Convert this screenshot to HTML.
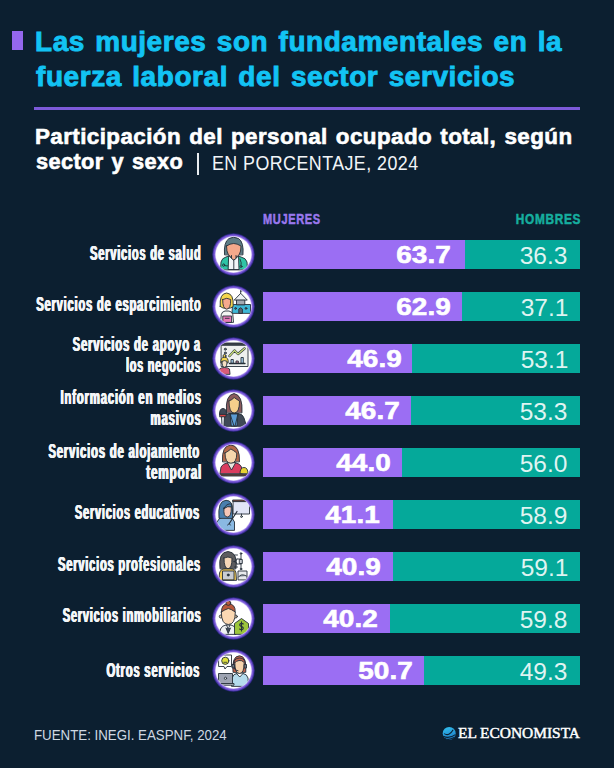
<!DOCTYPE html>
<html><head><meta charset="utf-8"><style>
html,body{margin:0;padding:0;}
body{width:614px;height:768px;background:#0c1f30;position:relative;overflow:hidden;font-family:"Liberation Sans",sans-serif;}
.t{position:absolute;white-space:nowrap;line-height:1;}
.bar{position:absolute;height:28.5px;}
.ic{position:absolute;width:41px;height:41px;}
</style></head><body>

<div style="position:absolute;left:12px;top:30.5px;width:11px;height:19px;background:#9467ee"></div>
<div style="position:absolute;left:34px;top:106.5px;width:546px;height:3px;background:#7d5ad9"></div>
<div style="position:absolute;left:196.8px;top:152.5px;width:2px;height:22px;background:#e8ecf0"></div>
<svg style="position:absolute;left:442px;top:726px" width="15" height="15" viewBox="0 0 15 15"><defs><linearGradient id="gg" x1="0" y1="0" x2="0.3" y2="1"><stop offset="0" stop-color="#33c4f2"/><stop offset="1" stop-color="#1f7fc8"/></linearGradient></defs><circle cx="7.2" cy="7.4" r="6.5" fill="url(#gg)"/><path d="M2.2 7.6 Q7 10.8 11.2 3.8 M1.2 10.2 Q7 13.2 13.4 8.6 M2.6 12.4 Q7 14.6 12.2 11.6" stroke="#0c1f30" stroke-width="1.1" fill="none"/></svg>
<div class="bar" style="left:263px;top:240px;width:201.93px;background:#9b6ef3"></div>
<div class="bar" style="left:464.93px;top:240px;width:115.07px;background:#05a99a"></div>
<div class="ic" style="left:212.70px;top:233.75px"><svg width="41" height="41" viewBox="0 0 41 41" style="display:block;overflow:visible"><defs><clipPath id="c1"><circle cx="20.5" cy="20.5" r="17.9"/></clipPath></defs><circle cx="20.5" cy="20.5" r="21.4" fill="#1e2366"/><circle cx="20.5" cy="20.5" r="20.8" fill="#4a37a8"/><circle cx="20.5" cy="20.5" r="19.9" fill="#7a5ad8"/><circle cx="20.5" cy="20.5" r="18.6" fill="#b8a5f0"/><circle cx="20.5" cy="20.5" r="17.9" fill="#fff"/><g clip-path="url(#c1)" stroke="#26303a" stroke-width="0.9" stroke-linejoin="round" stroke-linecap="round">
<path d="M7.5 35.5 L8 28 Q9 24 13 23 L17 21.5 L24 21.5 L28 23 Q33 24 34 28 L34.5 35.5 Z" fill="#2fc4a6"/>
<path d="M16 22 L20.8 26 L25.5 22 L26 35.5 L15.5 35.5 Z" fill="#f2f6f8"/>
<path d="M20.8 26 L20.8 35.5" fill="none"/>
<path d="M11.5 20.5 Q10.5 8 16 4.5 Q20.5 2 25.5 4.5 Q31 8 30 20.5 Z" fill="#5d7c85"/>
<path d="M13.5 12 Q13.5 23.5 20.7 23.5 Q28 23.5 28 12 Q24 9.5 20.7 9.5 Q17 9.5 13.5 12 Z" fill="#f4a98b"/>
<path d="M18.5 21.5 L18.5 24.5 L20.8 26 L23 24.5 L23 21.5" fill="#f4a98b"/>
<path d="M11 30 Q12 33 14.5 32" fill="none"/><circle cx="10.6" cy="31.2" r="1.1" fill="#2fc4a6"/>
<path d="M27 25 Q29 29 28 32" fill="none"/><circle cx="28" cy="32.5" r="1" fill="#2fc4a6"/>
</g></svg></div>
<div class="bar" style="left:263px;top:292px;width:199.39px;background:#9b6ef3"></div>
<div class="bar" style="left:462.39px;top:292px;width:117.61px;background:#05a99a"></div>
<div class="ic" style="left:212.70px;top:285.75px"><svg width="41" height="41" viewBox="0 0 41 41" style="display:block;overflow:visible"><defs><clipPath id="c2"><circle cx="20.5" cy="20.5" r="17.9"/></clipPath></defs><circle cx="20.5" cy="20.5" r="21.4" fill="#1e2366"/><circle cx="20.5" cy="20.5" r="20.8" fill="#4a37a8"/><circle cx="20.5" cy="20.5" r="19.9" fill="#7a5ad8"/><circle cx="20.5" cy="20.5" r="18.6" fill="#b8a5f0"/><circle cx="20.5" cy="20.5" r="17.9" fill="#fff"/><g clip-path="url(#c2)" stroke="#26303a" stroke-width="0.9" stroke-linejoin="round" stroke-linecap="round">
<path d="M19 27 L19.5 18.5 L37.5 18.5 L37.5 27 Z" fill="#3eb7d6"/>
<path d="M23.5 18.5 L23.5 13.5 L31.8 13.5 L31.8 18.5 Z" fill="#a3a9b2"/>
<path d="M21.5 13.8 L27.7 7.3 L34 13.8 Z" fill="#eef1f3"/>
<path d="M27.7 7.3 L27.7 3.3 L30.5 4.3 L27.7 5.3" fill="#eef1f3"/>
<path d="M25.8 27 L25.8 23 Q27.6 20.5 29.4 23 L29.4 27 Z" fill="#5b6670"/>
<circle cx="22.6" cy="22.4" r="0.9" fill="#5b6670"/><circle cx="33" cy="22.4" r="0.9" fill="#5b6670"/>
<path d="M7.5 36 L8.3 28.5 Q9 25.5 12 25 L16 25 Q19 25.5 19.8 28.5 L20.5 36 Z" fill="#f4f5f4"/>
<path d="M9.8 36 L9.8 30 L18.6 30 L18.6 36 Z" fill="#e879b9"/>
<path d="M12.3 32.3 L16.2 32.3" fill="none"/>
<path d="M7.2 20.5 Q6.2 7.5 13.6 7 Q21 7.5 20.2 20.5 Q18 22.5 13.6 22.5 Q9.5 22.5 7.2 20.5 Z" fill="#f5d64c"/>
<path d="M9.7 13.5 Q9.5 22.8 13.7 23.2 Q17.9 22.8 17.7 13.5 Q14 11 9.7 13.5 Z" fill="#f6a98d"/>
</g></svg></div>
<div class="bar" style="left:263px;top:344px;width:148.67px;background:#9b6ef3"></div>
<div class="bar" style="left:411.67px;top:344px;width:168.33px;background:#05a99a"></div>
<div class="ic" style="left:212.70px;top:337.75px"><svg width="41" height="41" viewBox="0 0 41 41" style="display:block;overflow:visible"><defs><clipPath id="c3"><circle cx="20.5" cy="20.5" r="17.9"/></clipPath></defs><circle cx="20.5" cy="20.5" r="21.4" fill="#1e2366"/><circle cx="20.5" cy="20.5" r="20.8" fill="#4a37a8"/><circle cx="20.5" cy="20.5" r="19.9" fill="#7a5ad8"/><circle cx="20.5" cy="20.5" r="18.6" fill="#b8a5f0"/><circle cx="20.5" cy="20.5" r="17.9" fill="#fff"/><g clip-path="url(#c3)" stroke="#26303a" stroke-width="0.9" stroke-linejoin="round" stroke-linecap="round">
<path d="M8.5 6.5 L35 6.5 L35 28.5 L8.5 28.5 Z" fill="#eef0ef"/>
<path d="M8 5 L35.5 5 L35.5 7.3 L8 7.3 Z" fill="#3b4148"/>
<circle cx="12.3" cy="11.2" r="1" fill="#9aa3ab"/><circle cx="12.3" cy="15" r="1" fill="#9aa3ab"/>
<path d="M16.5 18 L21.5 12.5 L25 16 L31.5 10.5" fill="none" stroke="#26303a" stroke-width="2.4"/>
<path d="M16.5 18 L21.5 12.5 L25 16 L31.5 10.5" fill="none" stroke="#cde07c" stroke-width="1.2"/>
<path d="M18 25 L18 21.5 L20.3 21.5 L20.3 25 Z" fill="#a9d2ef"/>
<path d="M23 25 L23 23 L25.3 23 L25.3 25 Z" fill="#df8aa0"/>
<path d="M28 25 L28 19.5 L30.3 19.5 L30.3 25 Z" fill="#a9d2ef"/>
<path d="M16.5 25.5 L32 25.5" fill="none" stroke-width="1.3"/>
<path d="M6 36 L6.5 31 Q8 29.5 11.5 29.5 Q15 29.5 16.5 31 L17 36 Z" fill="#d85c79"/>
<circle cx="11.5" cy="18" r="1.5" fill="#f5d64c"/>
<path d="M7.8 24.5 Q7.3 19.3 11.5 19.2 Q15.7 19.3 15.2 24.5 Z" fill="#f5d64c"/>
<path d="M9 23.3 Q9 29.3 11.5 29.3 Q14 29.3 14 23.3 Q11.5 21.8 9 23.3 Z" fill="#f6dfc3"/>
</g></svg></div>
<div class="bar" style="left:263px;top:396px;width:148.04px;background:#9b6ef3"></div>
<div class="bar" style="left:411.04px;top:396px;width:168.96px;background:#05a99a"></div>
<div class="ic" style="left:212.70px;top:389.75px"><svg width="41" height="41" viewBox="0 0 41 41" style="display:block;overflow:visible"><defs><clipPath id="c4"><circle cx="20.5" cy="20.5" r="17.9"/></clipPath></defs><circle cx="20.5" cy="20.5" r="21.4" fill="#1e2366"/><circle cx="20.5" cy="20.5" r="20.8" fill="#4a37a8"/><circle cx="20.5" cy="20.5" r="19.9" fill="#7a5ad8"/><circle cx="20.5" cy="20.5" r="18.6" fill="#b8a5f0"/><circle cx="20.5" cy="20.5" r="17.9" fill="#fff"/><g clip-path="url(#c4)" stroke="#26303a" stroke-width="0.9" stroke-linejoin="round" stroke-linecap="round">
<path d="M10.5 36 L11 28 Q12 24 16 23.5 L25 23.5 Q30 24 31 28 L33.5 36 Z" fill="#3f4957"/>
<path d="M17.5 24 L25 24 L24 36 L18.5 36 Z" fill="#5b9bd3"/>
<path d="M17 23.5 L19 30 L21 36 M25 23.5 L23.5 30 L22 36" fill="none"/>
<path d="M13.5 22.5 Q12 5 21 3.5 Q30 5 29 22.5 Z" fill="#8b5b5d"/>
<path d="M16 11 Q16 23 21.2 23 Q26.5 23 26.5 11 Q23 9 21.2 7.5 Q19 10 16 11 Z" fill="#f5cf8b"/>
<path d="M9 36 L8.5 26.5 L11.5 26.5 L11 36 Z" fill="#e4e6ea"/>
<path d="M7 24 L13 24 L13 26.8 L7 26.8 Z" fill="#d84343"/>
<path d="M6.5 24 Q6.5 18.5 10 18.5 Q13.5 18.5 13.5 24 Z" fill="#3f4957"/>
</g></svg></div>
<div class="bar" style="left:263px;top:448px;width:139.48px;background:#9b6ef3"></div>
<div class="bar" style="left:402.48px;top:448px;width:177.52px;background:#05a99a"></div>
<div class="ic" style="left:212.70px;top:441.75px"><svg width="41" height="41" viewBox="0 0 41 41" style="display:block;overflow:visible"><defs><clipPath id="c5"><circle cx="20.5" cy="20.5" r="17.9"/></clipPath></defs><circle cx="20.5" cy="20.5" r="21.4" fill="#1e2366"/><circle cx="20.5" cy="20.5" r="20.8" fill="#4a37a8"/><circle cx="20.5" cy="20.5" r="19.9" fill="#7a5ad8"/><circle cx="20.5" cy="20.5" r="18.6" fill="#b8a5f0"/><circle cx="20.5" cy="20.5" r="17.9" fill="#fff"/><g clip-path="url(#c5)" stroke="#26303a" stroke-width="0.9" stroke-linejoin="round" stroke-linecap="round">
<path d="M7 31.5 L8 25 Q10 21.5 14 21 L23 21 Q27 21.5 28.5 25 L29 31.5 Z" fill="#da3d5f"/>
<path d="M14.5 21 L18.5 28 L22.5 21 Z" fill="#e8e6df"/>
<path d="M9.5 19.5 Q8.5 3.5 17.8 3 Q27 3.5 26.5 19.5 Z" fill="#b46a4b"/>
<path d="M12 11 Q12 21.2 17.9 21.2 Q23.8 21.2 23.8 11 Q20 8 17.9 7 Q15 9.5 12 11 Z" fill="#f6d6ac"/>
<path d="M27 31.5 Q27 25.5 31 25.5 Q35 25.5 35 31.5 Z" fill="#e8d232"/>
<path d="M5.5 32 L36 32 L36 34 L5.5 34 Z" fill="#6b4a3d"/>
</g></svg></div>
<div class="bar" style="left:263px;top:500px;width:130.29px;background:#9b6ef3"></div>
<div class="bar" style="left:393.29px;top:500px;width:186.71px;background:#05a99a"></div>
<div class="ic" style="left:212.70px;top:493.75px"><svg width="41" height="41" viewBox="0 0 41 41" style="display:block;overflow:visible"><defs><clipPath id="c6"><circle cx="20.5" cy="20.5" r="17.9"/></clipPath></defs><circle cx="20.5" cy="20.5" r="21.4" fill="#1e2366"/><circle cx="20.5" cy="20.5" r="20.8" fill="#4a37a8"/><circle cx="20.5" cy="20.5" r="19.9" fill="#7a5ad8"/><circle cx="20.5" cy="20.5" r="18.6" fill="#b8a5f0"/><circle cx="20.5" cy="20.5" r="17.9" fill="#fff"/><g clip-path="url(#c6)" stroke="#26303a" stroke-width="0.9" stroke-linejoin="round" stroke-linecap="round">
<path d="M20.5 7 L36.5 7 L36.5 20 L20.5 20 Z" fill="#e1e5f6"/>
<path d="M20 6 L37 6 L37 7.6 L20 7.6 Z" fill="#8a4f3e"/>
<path d="M28.5 20 L28.5 22" fill="none"/><circle cx="28.5" cy="22.6" r="0.9" fill="#fff"/>
<path d="M3.5 36 L4 28 Q6 23.5 10 23 L16 23 Q20 23.5 21.5 28 L21.5 36 Z" fill="#8ab9e2"/>
<path d="M6 24 Q4.5 6.5 13 6.3 Q20 6.5 19.5 16 L19.5 24 Z" fill="#4a7fae"/>
<path d="M11 14 Q10 23 14.5 23 Q18.5 23 18.3 13 Q16 10.5 11 14 Z" fill="#f6c6b6"/>
<path d="M11 14.5 Q13.5 9 18.5 10 L18.3 13 Q15 11.5 11 14.5 Z" fill="#4a7fae"/>
<path d="M16 30 L24 17.5" fill="none" stroke-width="1.2"/>
<path d="M14.5 31 Q17 29 17.5 31" fill="#8ab9e2"/>
</g></svg></div>
<div class="bar" style="left:263px;top:552px;width:129.65px;background:#9b6ef3"></div>
<div class="bar" style="left:392.65px;top:552px;width:187.35px;background:#05a99a"></div>
<div class="ic" style="left:212.70px;top:545.75px"><svg width="41" height="41" viewBox="0 0 41 41" style="display:block;overflow:visible"><defs><clipPath id="c7"><circle cx="20.5" cy="20.5" r="17.9"/></clipPath></defs><circle cx="20.5" cy="20.5" r="21.4" fill="#1e2366"/><circle cx="20.5" cy="20.5" r="20.8" fill="#4a37a8"/><circle cx="20.5" cy="20.5" r="19.9" fill="#7a5ad8"/><circle cx="20.5" cy="20.5" r="18.6" fill="#b8a5f0"/><circle cx="20.5" cy="20.5" r="17.9" fill="#fff"/><g clip-path="url(#c7)" stroke="#26303a" stroke-width="0.9" stroke-linejoin="round" stroke-linecap="round">
<path d="M6 34 L6.5 27 Q8 22.5 12 22.5 L18 22.5 Q22 22.5 23 27 L23.5 34 Z" fill="#f2c955"/>
<path d="M7 22.5 Q5 6 15 5.5 Q25 6 23 22.5 Z" fill="#5c5c5e"/>
<path d="M11 12 Q11 22.7 15 22.7 Q19 22.7 19 12 Q15 10 11 12 Z" fill="#f5d7b7"/>
<path d="M9.5 33.5 L9.5 25 L21 25 L21 33.5 Z" fill="#c9ccd3"/>
<circle cx="15.2" cy="29" r="1" fill="#26303a"/>
<path d="M25 33.5 L25 25 L34 25 L34 33.5 Z" fill="#e8eaec"/>
<path d="M25.5 31 Q28 27 33.5 30" fill="#9aa0a8"/>
<path d="M21 15.5 Q24 15.5 24 13 M21 15.5 Q24 15.5 24 18 M24 13 L28 13 M24 18 L28 18 M28 8 L28 23" fill="none"/>
<path d="M26.7 13.5 L29.3 13.5 L29.3 17.5 L26.7 17.5 Z" fill="#c9ccd3"/>
<circle cx="28" cy="7.5" r="0.8" fill="#9aa0a8"/><circle cx="28" cy="23" r="0.8" fill="#9aa0a8"/>
<path d="M24.5 9 L21.5 9 M24.5 21 L21.5 21" fill="none"/>
</g></svg></div>
<div class="bar" style="left:263px;top:604px;width:127.43px;background:#9b6ef3"></div>
<div class="bar" style="left:390.43px;top:604px;width:189.57px;background:#05a99a"></div>
<div class="ic" style="left:212.70px;top:597.75px"><svg width="41" height="41" viewBox="0 0 41 41" style="display:block;overflow:visible"><defs><clipPath id="c8"><circle cx="20.5" cy="20.5" r="17.9"/></clipPath></defs><circle cx="20.5" cy="20.5" r="21.4" fill="#1e2366"/><circle cx="20.5" cy="20.5" r="20.8" fill="#4a37a8"/><circle cx="20.5" cy="20.5" r="19.9" fill="#7a5ad8"/><circle cx="20.5" cy="20.5" r="18.6" fill="#b8a5f0"/><circle cx="20.5" cy="20.5" r="17.9" fill="#fff"/><g clip-path="url(#c8)" stroke="#26303a" stroke-width="0.9" stroke-linejoin="round" stroke-linecap="round">
<path d="M7 36 L7.5 31 Q9 27.5 13 27 L18 27 Q21.5 27.5 22.5 31 L23 36 Z" fill="#f0f2f3"/>
<path d="M13.5 27 L15.2 31 L17 27" fill="none"/>
<path d="M13 30 L15.2 35.5 L17.5 30" fill="#3f4957"/>
<path d="M8.5 14 Q8 6 15.3 5.8 Q22.8 6 22.2 14 Z" fill="#b6593b"/>
<circle cx="15.3" cy="5" r="2.4" fill="#b6593b"/>
<circle cx="7.8" cy="18.5" r="1.5" fill="#f6d6af"/><circle cx="22.8" cy="18.5" r="1.5" fill="#f6d6af"/>
<path d="M8.3 14 Q8.3 26.5 15.3 26.5 Q22.3 26.5 22.3 14 Q18 11 15.3 10.5 Q12 11.5 8.3 14 Z" fill="#fbd8b3"/>
<path d="M21.5 36 L21.5 25.5 L28.5 20.5 L35.5 25.5 L35.5 36 Z" fill="#9cc53b"/>
<path d="M30.3 26 Q28.5 24.7 27 26 Q26 27.5 28.5 28.5 Q31 29.5 30 31 Q28.5 32.3 26.6 31 M28.5 23.8 L28.5 33" fill="none" stroke-width="1.1"/>
</g></svg></div>
<div class="bar" style="left:263px;top:656px;width:160.72px;background:#9b6ef3"></div>
<div class="bar" style="left:423.72px;top:656px;width:156.28px;background:#05a99a"></div>
<div class="ic" style="left:212.70px;top:649.75px"><svg width="41" height="41" viewBox="0 0 41 41" style="display:block;overflow:visible"><defs><clipPath id="c9"><circle cx="20.5" cy="20.5" r="17.9"/></clipPath></defs><circle cx="20.5" cy="20.5" r="21.4" fill="#1e2366"/><circle cx="20.5" cy="20.5" r="20.8" fill="#4a37a8"/><circle cx="20.5" cy="20.5" r="19.9" fill="#7a5ad8"/><circle cx="20.5" cy="20.5" r="18.6" fill="#b8a5f0"/><circle cx="20.5" cy="20.5" r="17.9" fill="#fff"/><g clip-path="url(#c9)" stroke="#26303a" stroke-width="0.9" stroke-linejoin="round" stroke-linecap="round">
<path d="M18.5 36 L19 28 Q20.5 23.5 24 23.5 L30 23.5 Q34 24 35 28 L35.5 36 Z" fill="#b5dced"/>
<path d="M23.5 23.5 L26.8 27 L30 23.5" fill="#fff"/>
<path d="M20 22 Q18.5 6 26.5 5.8 Q34 6 32.8 22 Z" fill="#c4634c"/>
<path d="M21.8 12.5 Q21.8 23.5 26.5 23.5 Q31.2 23.5 31.2 12.5 Q29 10 26 10.5 Q23.5 11 21.8 12.5 Z" fill="#f6d3ad"/>
<path d="M20.5 15 Q20.5 8 26.5 8 Q32.5 8 32.5 15" fill="none"/>
<path d="M19.5 14.5 L21.5 14.5 L21.5 18 L19.5 18 Z M31.5 14.5 L33.5 14.5 L33.5 18 L31.5 18 Z" fill="#6b7480"/>
<path d="M21 18 Q22 21 25 20.8" fill="none"/>
<path d="M6 5 L18.5 5 L18.5 16.5 L14 16.5 L12 19 L11 16.5 L6 16.5 Z" fill="#fff"/>
<circle cx="12.3" cy="10.8" r="3.6" fill="#dfe03f"/>
<path d="M10.8 12.3 L13.8 12.3" fill="none" stroke-width="0.8"/>
<path d="M5.5 33.5 L5.5 23.5 L19.5 23.5 L19.5 33.5 Z" fill="#9ea4b2"/>
<circle cx="12.5" cy="28.3" r="1.1" fill="#fff"/>
<path d="M4 33.5 L21 33.5 L21 35.2 L4 35.2 Z" fill="#c9ccd3"/>
</g></svg></div>
<div class="t" id="t1" style="left:35.47px;top:27.22px;font-size:28.20px;font-weight:bold;color:#12c3f4;font-family:'Liberation Sans', sans-serif;transform:scaleX(0.9903);transform-origin:left top;letter-spacing:0.6px;word-spacing:2px;-webkit-text-stroke:0.9px #12c3f4">Las mujeres son fundamentales en la</div>
<div class="t" id="t2" style="left:36.49px;top:62.32px;font-size:28.20px;font-weight:bold;color:#12c3f4;font-family:'Liberation Sans', sans-serif;transform:scaleX(0.9915);transform-origin:left top;letter-spacing:0.6px;word-spacing:2px;-webkit-text-stroke:0.9px #12c3f4">fuerza laboral del sector servicios</div>
<div class="t" id="s1" style="left:35.00px;top:125.51px;font-size:21.60px;font-weight:bold;color:#fff;font-family:'Liberation Sans', sans-serif;transform:scaleX(1.0371);transform-origin:left top;letter-spacing:0.4px;word-spacing:1.5px;-webkit-text-stroke:0.6px #fff">Participación del personal ocupado total, según</div>
<div class="t" id="s2" style="left:36.05px;top:151.31px;font-size:21.60px;font-weight:bold;color:#fff;font-family:'Liberation Sans', sans-serif;transform:scaleX(1.0062);transform-origin:left top;letter-spacing:0.4px;word-spacing:1.5px;-webkit-text-stroke:0.6px #fff">sector y sexo</div>
<div class="t" id="s3" style="left:211.72px;top:152.87px;font-size:20.00px;font-weight:normal;color:#f2f5f8;font-family:'Liberation Sans', sans-serif;transform:scaleX(0.8924);transform-origin:left top;letter-spacing:0.5px">EN PORCENTAJE, 2024</div>
<div class="t" id="mu" style="left:263.42px;top:213.22px;font-size:13.80px;font-weight:bold;color:#9a78ee;font-family:'Liberation Sans', sans-serif;transform:scaleX(0.7986);transform-origin:left top;letter-spacing:0.8px;-webkit-text-stroke:0.5px #9a78ee">MUJERES</div>
<div class="t" id="ho" style="right:32.68px;top:213.22px;font-size:13.80px;font-weight:bold;color:#16ae9f;font-family:'Liberation Sans', sans-serif;transform:scaleX(0.8579);transform-origin:right top;letter-spacing:0.8px;-webkit-text-stroke:0.5px #16ae9f">HOMBRES</div>
<div class="t" id="ft" style="left:34.13px;top:726.55px;font-size:15.30px;font-weight:normal;color:#cfd8e2;font-family:'Liberation Sans', sans-serif;transform:scaleX(0.8688);transform-origin:left top;">FUENTE: INEGI. EASPNF, 2024</div>
<div class="t" id="logo" style="left:457.93px;top:725.97px;font-size:14.80px;font-weight:normal;color:#fff;font-family:'Liberation Serif', serif;transform:scaleX(1.0422);transform-origin:left top;-webkit-text-stroke:0.45px #fff">EL ECONOMISTA</div>
<div class="t" id="l0a" style="right:413.01px;top:244.45px;font-size:19.60px;font-weight:bold;color:#f4f6f8;font-family:'Liberation Sans', sans-serif;transform:scaleX(0.5702);transform-origin:right top;letter-spacing:1.3px;text-shadow:0.8px 0 0 #f4f6f8,-0.8px 0 0 #f4f6f8">Servicios de salud</div>
<div class="t" id="w0" style="right:162.89px;top:242.51px;font-size:24.50px;font-weight:bold;color:#fff;font-family:'Liberation Sans', sans-serif;transform:scaleX(1.1400);transform-origin:right top;-webkit-text-stroke:0.6px #fff">63.7</div>
<div class="t" id="m0" style="right:46.70px;top:244.31px;font-size:24.50px;font-weight:normal;color:rgba(255,255,255,0.88);font-family:'Liberation Sans', sans-serif;transform:scaleX(1.0000);transform-origin:right top;">36.3</div>
<div class="t" id="l1a" style="right:412.71px;top:295.15px;font-size:19.60px;font-weight:bold;color:#f4f6f8;font-family:'Liberation Sans', sans-serif;transform:scaleX(0.5751);transform-origin:right top;letter-spacing:1.3px;text-shadow:0.8px 0 0 #f4f6f8,-0.8px 0 0 #f4f6f8">Servicios de esparcimiento</div>
<div class="t" id="w1" style="right:163.40px;top:294.51px;font-size:24.50px;font-weight:bold;color:#fff;font-family:'Liberation Sans', sans-serif;transform:scaleX(1.1400);transform-origin:right top;-webkit-text-stroke:0.6px #fff">62.9</div>
<div class="t" id="m1" style="right:45.70px;top:296.31px;font-size:24.50px;font-weight:normal;color:rgba(255,255,255,0.88);font-family:'Liberation Sans', sans-serif;transform:scaleX(1.0000);transform-origin:right top;">37.1</div>
<div class="t" id="l2a" style="right:413.27px;top:334.55px;font-size:19.60px;font-weight:bold;color:#f4f6f8;font-family:'Liberation Sans', sans-serif;transform:scaleX(0.5809);transform-origin:right top;letter-spacing:1.3px;text-shadow:0.8px 0 0 #f4f6f8,-0.8px 0 0 #f4f6f8">Servicios de apoyo a</div>
<div class="t" id="l2b" style="right:412.69px;top:355.85px;font-size:19.60px;font-weight:bold;color:#f4f6f8;font-family:'Liberation Sans', sans-serif;transform:scaleX(0.5566);transform-origin:right top;letter-spacing:1.3px;text-shadow:0.8px 0 0 #f4f6f8,-0.8px 0 0 #f4f6f8">los negocios</div>
<div class="t" id="w2" style="right:212.08px;top:346.51px;font-size:24.50px;font-weight:bold;color:#fff;font-family:'Liberation Sans', sans-serif;transform:scaleX(1.1400);transform-origin:right top;-webkit-text-stroke:0.6px #fff">46.9</div>
<div class="t" id="m2" style="right:45.70px;top:348.31px;font-size:24.50px;font-weight:normal;color:rgba(255,255,255,0.88);font-family:'Liberation Sans', sans-serif;transform:scaleX(1.0000);transform-origin:right top;">53.1</div>
<div class="t" id="l3a" style="right:412.71px;top:387.55px;font-size:19.60px;font-weight:bold;color:#f4f6f8;font-family:'Liberation Sans', sans-serif;transform:scaleX(0.5846);transform-origin:right top;letter-spacing:1.3px;text-shadow:0.8px 0 0 #f4f6f8,-0.8px 0 0 #f4f6f8">Información en medios</div>
<div class="t" id="l3b" style="right:412.70px;top:408.65px;font-size:19.60px;font-weight:bold;color:#f4f6f8;font-family:'Liberation Sans', sans-serif;transform:scaleX(0.5824);transform-origin:right top;letter-spacing:1.3px;text-shadow:0.8px 0 0 #f4f6f8,-0.8px 0 0 #f4f6f8">masivos</div>
<div class="t" id="w3" style="right:214.52px;top:398.51px;font-size:24.50px;font-weight:bold;color:#fff;font-family:'Liberation Sans', sans-serif;transform:scaleX(1.1400);transform-origin:right top;-webkit-text-stroke:0.6px #fff">46.7</div>
<div class="t" id="m3" style="right:46.70px;top:400.31px;font-size:24.50px;font-weight:normal;color:rgba(255,255,255,0.88);font-family:'Liberation Sans', sans-serif;transform:scaleX(1.0000);transform-origin:right top;">53.3</div>
<div class="t" id="l4a" style="right:413.65px;top:442.15px;font-size:19.60px;font-weight:bold;color:#f4f6f8;font-family:'Liberation Sans', sans-serif;transform:scaleX(0.5808);transform-origin:right top;letter-spacing:1.3px;text-shadow:0.8px 0 0 #f4f6f8,-0.8px 0 0 #f4f6f8">Servicios de alojamiento</div>
<div class="t" id="l4b" style="right:412.03px;top:463.15px;font-size:19.60px;font-weight:bold;color:#f4f6f8;font-family:'Liberation Sans', sans-serif;transform:scaleX(0.6001);transform-origin:right top;letter-spacing:1.3px;text-shadow:0.8px 0 0 #f4f6f8,-0.8px 0 0 #f4f6f8">temporal</div>
<div class="t" id="w4" style="right:223.15px;top:450.51px;font-size:24.50px;font-weight:bold;color:#fff;font-family:'Liberation Sans', sans-serif;transform:scaleX(1.1400);transform-origin:right top;-webkit-text-stroke:0.6px #fff">44.0</div>
<div class="t" id="m4" style="right:46.70px;top:452.31px;font-size:24.50px;font-weight:normal;color:rgba(255,255,255,0.88);font-family:'Liberation Sans', sans-serif;transform:scaleX(1.0000);transform-origin:right top;">56.0</div>
<div class="t" id="l5a" style="right:413.82px;top:503.45px;font-size:19.60px;font-weight:bold;color:#f4f6f8;font-family:'Liberation Sans', sans-serif;transform:scaleX(0.5661);transform-origin:right top;letter-spacing:1.3px;text-shadow:0.8px 0 0 #f4f6f8,-0.8px 0 0 #f4f6f8">Servicios educativos</div>
<div class="t" id="w5" style="right:234.82px;top:502.51px;font-size:24.50px;font-weight:bold;color:#fff;font-family:'Liberation Sans', sans-serif;transform:scaleX(1.1400);transform-origin:right top;-webkit-text-stroke:0.6px #fff">41.1</div>
<div class="t" id="m5" style="right:46.70px;top:504.31px;font-size:24.50px;font-weight:normal;color:rgba(255,255,255,0.88);font-family:'Liberation Sans', sans-serif;transform:scaleX(1.0000);transform-origin:right top;">58.9</div>
<div class="t" id="l6a" style="right:412.82px;top:555.15px;font-size:19.60px;font-weight:bold;color:#f4f6f8;font-family:'Liberation Sans', sans-serif;transform:scaleX(0.5719);transform-origin:right top;letter-spacing:1.3px;text-shadow:0.8px 0 0 #f4f6f8,-0.8px 0 0 #f4f6f8">Servicios profesionales</div>
<div class="t" id="w6" style="right:233.21px;top:554.51px;font-size:24.50px;font-weight:bold;color:#fff;font-family:'Liberation Sans', sans-serif;transform:scaleX(1.1400);transform-origin:right top;-webkit-text-stroke:0.6px #fff">40.9</div>
<div class="t" id="m6" style="right:45.70px;top:556.31px;font-size:24.50px;font-weight:normal;color:rgba(255,255,255,0.88);font-family:'Liberation Sans', sans-serif;transform:scaleX(1.0000);transform-origin:right top;">59.1</div>
<div class="t" id="l7a" style="right:412.69px;top:606.35px;font-size:19.60px;font-weight:bold;color:#f4f6f8;font-family:'Liberation Sans', sans-serif;transform:scaleX(0.5674);transform-origin:right top;letter-spacing:1.3px;text-shadow:0.8px 0 0 #f4f6f8,-0.8px 0 0 #f4f6f8">Servicios inmobiliarios</div>
<div class="t" id="w7" style="right:236.16px;top:606.51px;font-size:24.50px;font-weight:bold;color:#fff;font-family:'Liberation Sans', sans-serif;transform:scaleX(1.1400);transform-origin:right top;-webkit-text-stroke:0.6px #fff">40.2</div>
<div class="t" id="m7" style="right:46.70px;top:608.31px;font-size:24.50px;font-weight:normal;color:rgba(255,255,255,0.88);font-family:'Liberation Sans', sans-serif;transform:scaleX(1.0000);transform-origin:right top;">59.8</div>
<div class="t" id="l8a" style="right:413.67px;top:661.15px;font-size:19.60px;font-weight:bold;color:#f4f6f8;font-family:'Liberation Sans', sans-serif;transform:scaleX(0.5776);transform-origin:right top;letter-spacing:1.3px;text-shadow:0.8px 0 0 #f4f6f8,-0.8px 0 0 #f4f6f8">Otros servicios</div>
<div class="t" id="w8" style="right:201.38px;top:658.51px;font-size:24.50px;font-weight:bold;color:#fff;font-family:'Liberation Sans', sans-serif;transform:scaleX(1.1400);transform-origin:right top;-webkit-text-stroke:0.6px #fff">50.7</div>
<div class="t" id="m8" style="right:46.70px;top:660.31px;font-size:24.50px;font-weight:normal;color:rgba(255,255,255,0.88);font-family:'Liberation Sans', sans-serif;transform:scaleX(1.0000);transform-origin:right top;">49.3</div>
</body></html>
